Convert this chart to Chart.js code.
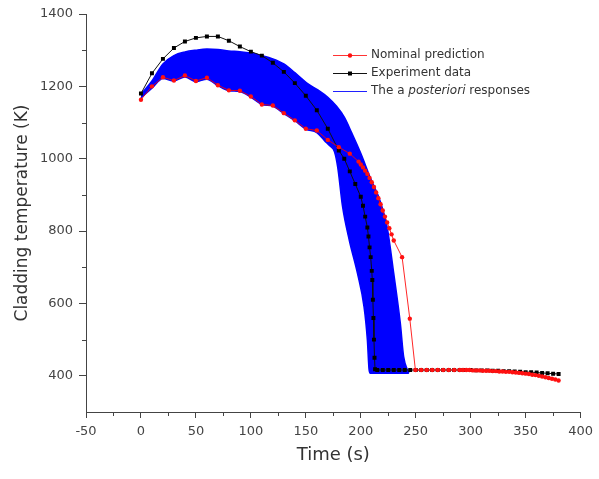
<!DOCTYPE html>
<html>
<head>
<meta charset="utf-8">
<script src="https://cdn.jsdelivr.net/npm/chart.js@4.4.0/dist/chart.umd.min.js"></script>
<style>
  html, body { margin: 0; padding: 0; background: #fff; }
  #wrap { width: 599px; height: 479px; position: relative; }
</style>
</head>
<body>
<div id="wrap"><canvas id="tempChart"></canvas></div>
<script>
// tick labels
const xTickLabels = [-50, 0, 50, 100, 150, 200, 250, 300, 350, 400];
const yTickLabels = [400, 600, 800, 1000, 1200, 1400];

// Experiment data (black squares)
const expTime = [0, 10, 20, 30, 40, 50, 60, 70, 80, 90, 100, 110, 120, 130, 140, 150, 160, 170, 180, 185,
  190, 195, 200, 202, 204, 206, 207, 208, 209, 210, 210.5, 211, 211.5, 212, 212.5, 213,
  215, 220, 225, 230, 235, 240, 245, 250, 255, 260, 265, 270, 275, 280, 285, 290, 295, 300,
  305, 310, 315, 320, 325, 330, 335, 340, 345, 350, 355, 360, 365, 370, 375, 380];
const expTemp = [1180, 1236, 1276, 1306, 1324, 1334, 1338, 1338, 1326, 1310, 1296, 1285, 1265, 1240, 1209, 1174, 1134, 1083, 1023, 1000,
  965, 930, 895, 870, 840, 810, 785, 755, 728, 690, 665, 610, 560, 500, 450, 418,
  416, 416, 416, 416, 416, 416, 416, 416, 416, 416, 416, 416, 416, 416, 416, 416, 416, 416,
  415, 415, 415, 414, 414, 413, 413, 412, 411, 410, 410, 409, 408, 407, 406, 405];

// Nominal prediction (red circles)
const nomTime = [0, 10, 20, 30, 40, 50, 60, 70, 80, 90, 100, 110, 120, 130, 140, 150, 160, 170, 180, 190,
  198, 200, 202, 204, 206, 208, 210, 212, 214, 216, 218, 220, 222, 224, 226, 228, 230, 237.6, 244.6, 249.7,
  255, 260, 265, 270, 275, 280, 285, 290,
  293, 296, 299, 302, 305, 308, 311, 314, 317, 320, 323, 326, 329, 332, 335, 338, 341, 344, 347, 350,
  353, 356, 359, 362, 365, 368, 371, 374, 377, 380];
const nomTemp = [1163, 1200, 1225, 1216, 1230, 1215, 1224, 1203, 1189, 1188, 1172, 1150, 1147, 1126, 1106, 1083, 1078, 1052, 1032, 1014,
  992, 984, 976, 967, 958, 947, 935, 922, 907, 891, 874, 857, 840, 824, 808, 791, 774, 728, 558, 416,
  416, 416, 416, 416, 416, 416, 416, 416,
  416, 416, 416, 415, 415, 415, 414, 414, 414, 413, 413, 412, 412, 411, 411, 410, 409, 408, 407, 406,
  405, 403, 402, 400, 398, 396, 394, 392, 390, 387];

// envelope of the a posteriori responses (blue band)
const bandUpperTime = [0, 10, 20, 30, 40, 50, 60, 70, 80, 90, 100, 110, 120, 130, 140, 152, 161, 170, 178, 185,
  192, 200, 209, 218, 224, 230, 236, 239, 243.7];
const bandUpperTemp = [1178, 1215, 1262, 1285, 1295, 1300, 1303, 1302, 1298, 1296, 1292, 1285, 1276, 1262, 1238, 1207, 1190, 1170, 1145, 1115,
  1070, 1015, 945, 880, 811, 683, 545, 453, 407];
const bandLowerTime = [0, 10, 20, 30, 40, 50, 60, 70, 80, 90, 100, 110, 120, 130, 140, 150, 160, 167, 172, 176,
  179, 183.5, 189.6, 197, 203, 206, 207.6, 209, 243.7];
const bandLowerTemp = [1168, 1195, 1222, 1215, 1226, 1213, 1220, 1202, 1188, 1186, 1170, 1150, 1145, 1125, 1105, 1082, 1072, 1050, 1035, 1020,
  977, 866, 774, 683, 590, 499, 416, 407, 407];

const toPoints = (xs, ys) => xs.map((x, i) => ({ x: x, y: ys[i] }));

const fontFamily = "'DejaVu Sans', 'Liberation Sans', Arial, sans-serif";
const axisColor = '#444';

// short minor ticks between the labelled ones
const minorTicks = {
  id: 'minorTicks',
  afterDraw(chart) {
    const ctx = chart.ctx;
    const xs = chart.scales.x;
    const ys = chart.scales.y;
    ctx.save();
    ctx.strokeStyle = axisColor;
    ctx.lineWidth = 1;
    ctx.beginPath();
    xs.ticks.forEach(t => {
      if (xTickLabels.includes(t.value)) return;
      const px = Math.round(xs.getPixelForValue(t.value)) + 0.5;
      ctx.moveTo(px, xs.top);
      ctx.lineTo(px, xs.top + 4);
    });
    ys.ticks.forEach(t => {
      if (yTickLabels.includes(t.value) || t.value === ys.min) return;
      const py = Math.round(ys.getPixelForValue(t.value)) + 0.5;
      ctx.moveTo(ys.right - 4, py);
      ctx.lineTo(ys.right, py);
    });
    ctx.stroke();
    ctx.restore();
  }
};

// legend box like the original (with italic "posteriori")
const curveLegend = {
  id: 'curveLegend',
  afterDraw(chart) {
    const ctx = chart.ctx;
    const x0 = 333, x1 = 367, tx = 371;
    const rows = [55, 73, 91];
    ctx.save();
    ctx.lineWidth = 1;

    ctx.strokeStyle = 'rgba(255,0,0,0.8)';
    ctx.beginPath(); ctx.moveTo(x0, rows[0] + 0.5); ctx.lineTo(x1, rows[0] + 0.5); ctx.stroke();
    ctx.fillStyle = '#ff1010';
    ctx.beginPath(); ctx.arc((x0 + x1) / 2, rows[0] + 0.5, 2.2, 0, Math.PI * 2); ctx.fill();

    ctx.strokeStyle = '#111';
    ctx.beginPath(); ctx.moveTo(x0, rows[1] + 0.5); ctx.lineTo(x1, rows[1] + 0.5); ctx.stroke();
    ctx.fillStyle = '#000';
    ctx.fillRect((x0 + x1) / 2 - 2, rows[1] - 1.5, 4, 4);

    ctx.strokeStyle = '#2020ff';
    ctx.beginPath(); ctx.moveTo(x0, rows[2] + 0.5); ctx.lineTo(x1, rows[2] + 0.5); ctx.stroke();

    ctx.fillStyle = '#333';
    ctx.textBaseline = 'middle';
    ctx.textAlign = 'left';
    const normal = '12px ' + fontFamily;
    const italic = 'italic 12px ' + fontFamily;
    ctx.font = normal;
    ctx.fillText('Nominal prediction', tx, rows[0]);
    ctx.fillText('Experiment data', tx, rows[1]);
    let cx = tx;
    ctx.fillText('The a ', cx, rows[2]);
    cx += ctx.measureText('The a ').width;
    ctx.font = italic;
    ctx.fillText('posteriori', cx, rows[2]);
    cx += ctx.measureText('posteriori').width;
    ctx.font = normal;
    ctx.fillText(' responses', cx, rows[2]);
    ctx.restore();
  }
};

const ctx = document.getElementById('tempChart').getContext('2d');

const tempChart = new Chart(ctx, {
  type: 'line',
  data: {
    datasets: [
      {
        label: 'Nominal prediction',
        data: toPoints(nomTime, nomTemp),
        borderColor: 'rgba(255,0,0,0.85)',
        borderWidth: 1,
        backgroundColor: '#ff1010',
        pointRadius: 2.2,
        pointBorderWidth: 0,
        pointStyle: 'circle',
        tension: 0,
        fill: false
      },
      {
        label: 'Experiment data',
        data: toPoints(expTime, expTemp),
        borderColor: '#111',
        borderWidth: 1,
        backgroundColor: '#000',
        pointRadius: 2.8,
        pointBorderWidth: 0,
        pointStyle: 'rect',
        tension: 0,
        fill: false
      },
      {
        label: 'The a posteriori responses',
        data: toPoints(bandUpperTime, bandUpperTemp),
        borderColor: '#0000ff',
        borderWidth: 1.5,
        backgroundColor: '#0000ff',
        pointRadius: 0,
        cubicInterpolationMode: 'monotone',
        fill: '+1'
      },
      {
        label: 'band lower',
        data: toPoints(bandLowerTime, bandLowerTemp),
        borderColor: '#0000ff',
        borderWidth: 1.5,
        pointRadius: 0,
        cubicInterpolationMode: 'monotone',
        fill: false
      }
    ]
  },
  options: {
    responsive: true,
    maintainAspectRatio: false,
    animation: false,
    layout: { padding: { left: 0, top: 14, right: 14, bottom: 0 } },
    plugins: {
      legend: { display: false },
      tooltip: { enabled: false }
    },
    scales: {
      x: {
        type: 'linear',
        min: -50,
        max: 400,
        afterFit: s => { s.height = 67; },
        border: { color: axisColor, width: 1 },
        grid: {
          drawOnChartArea: false,
          tickLength: 6,
          tickColor: c => (xTickLabels.includes(c.tick.value) ? axisColor : 'rgba(0,0,0,0)')
        },
        ticks: {
          stepSize: 25,
          autoSkip: false,
          maxRotation: 0,
          padding: 6,
          color: axisColor,
          font: { family: fontFamily, size: 13 },
          callback: v => (xTickLabels.includes(v) ? String(v) : '')
        },
        title: {
          display: true,
          text: 'Time (s)',
          color: '#333',
          font: { family: fontFamily, size: 18 },
          padding: { top: 0, bottom: 13 }
        }
      },
      y: {
        type: 'linear',
        min: 300,
        max: 1400,
        afterFit: s => { s.width = 86; },
        border: { color: axisColor, width: 1 },
        grid: {
          drawOnChartArea: false,
          tickLength: 7,
          tickColor: c => (yTickLabels.includes(c.tick.value) ? axisColor : 'rgba(0,0,0,0)')
        },
        ticks: {
          stepSize: 100,
          autoSkip: false,
          padding: 6,
          color: axisColor,
          font: { family: fontFamily, size: 13 },
          callback: v => (yTickLabels.includes(v) ? String(v) : '')
        },
        title: {
          display: true,
          text: 'Cladding temperature (K)',
          color: '#333',
          font: { family: fontFamily, size: 17 },
          padding: { top: 12, bottom: 0 }
        }
      }
    }
  },
  plugins: [minorTicks, curveLegend]
});
</script>
</body>
</html>
